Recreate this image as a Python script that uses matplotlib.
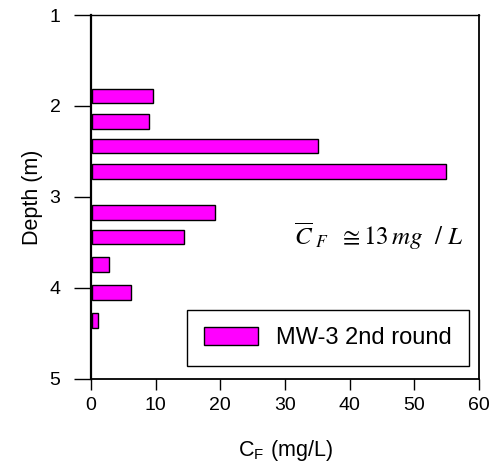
import matplotlib
matplotlib.use('Agg')
import matplotlib.pyplot as plt

plt.rcParams['font.family'] = ['Liberation Sans', 'DejaVu Sans']
plt.rcParams['mathtext.fontset'] = 'stix'

# depth (m) of each sample and fluoride concentration (mg/L)
depths = [1.89, 2.17, 2.44, 2.72, 3.17, 3.44, 3.74, 4.05, 4.36]
conc = [9.5, 8.8, 35.0, 54.7, 19.0, 14.2, 2.7, 6.1, 0.9]
series_name = 'MW-3 2nd round'
y_ticks = [1, 2, 3, 4, 5]
x_ticks = [0, 10, 20, 30, 40, 50, 60]

fig = plt.figure(figsize=(4.92, 4.69), dpi=100)
ax = fig.add_axes([0.185, 0.192, 0.7886, 0.776])

ax.barh(depths, conc, height=0.16, left=0.15, color='#ff00ff',
        edgecolor='black', linewidth=1.0, label=series_name)

ax.set_xlim(0, 60)
ax.set_ylim(5, 1)
ax.set_xticks(x_ticks)
ax.set_yticks(y_ticks)
ax.tick_params(axis='x', direction='out', length=8, width=1, labelsize=14, pad=5)
ax.tick_params(axis='y', direction='out', length=12, width=1, labelsize=14, pad=10)
ax.spines['left'].set_linewidth(1.6)
ax.spines['bottom'].set_linewidth(1.3)
ax.spines['top'].set_linewidth(1.0)
ax.spines['right'].set_linewidth(1.3)

ax.set_ylabel('Depth (m)', fontsize=15.5, labelpad=5)
ax.set_xlabel(r'C$_\mathregular{F}$ (mg/L)', fontsize=15.5, labelpad=17)

ax.text(57.5, 3.53, r'$\overline{C}_{\ F}\ \ \cong 13\,mg\ \ /\ L$',
        fontsize=18, ha='right', va='baseline')

leg = ax.legend(loc='lower right', bbox_to_anchor=(0.974, 0.036),
                borderaxespad=0, fontsize=17, fancybox=False, framealpha=1,
                edgecolor='black', handlelength=2.3, handleheight=0.8,
                borderpad=0.72, handletextpad=0.75)
leg.get_frame().set_linewidth(1.0)

fig.savefig('out.png', dpi=100)
